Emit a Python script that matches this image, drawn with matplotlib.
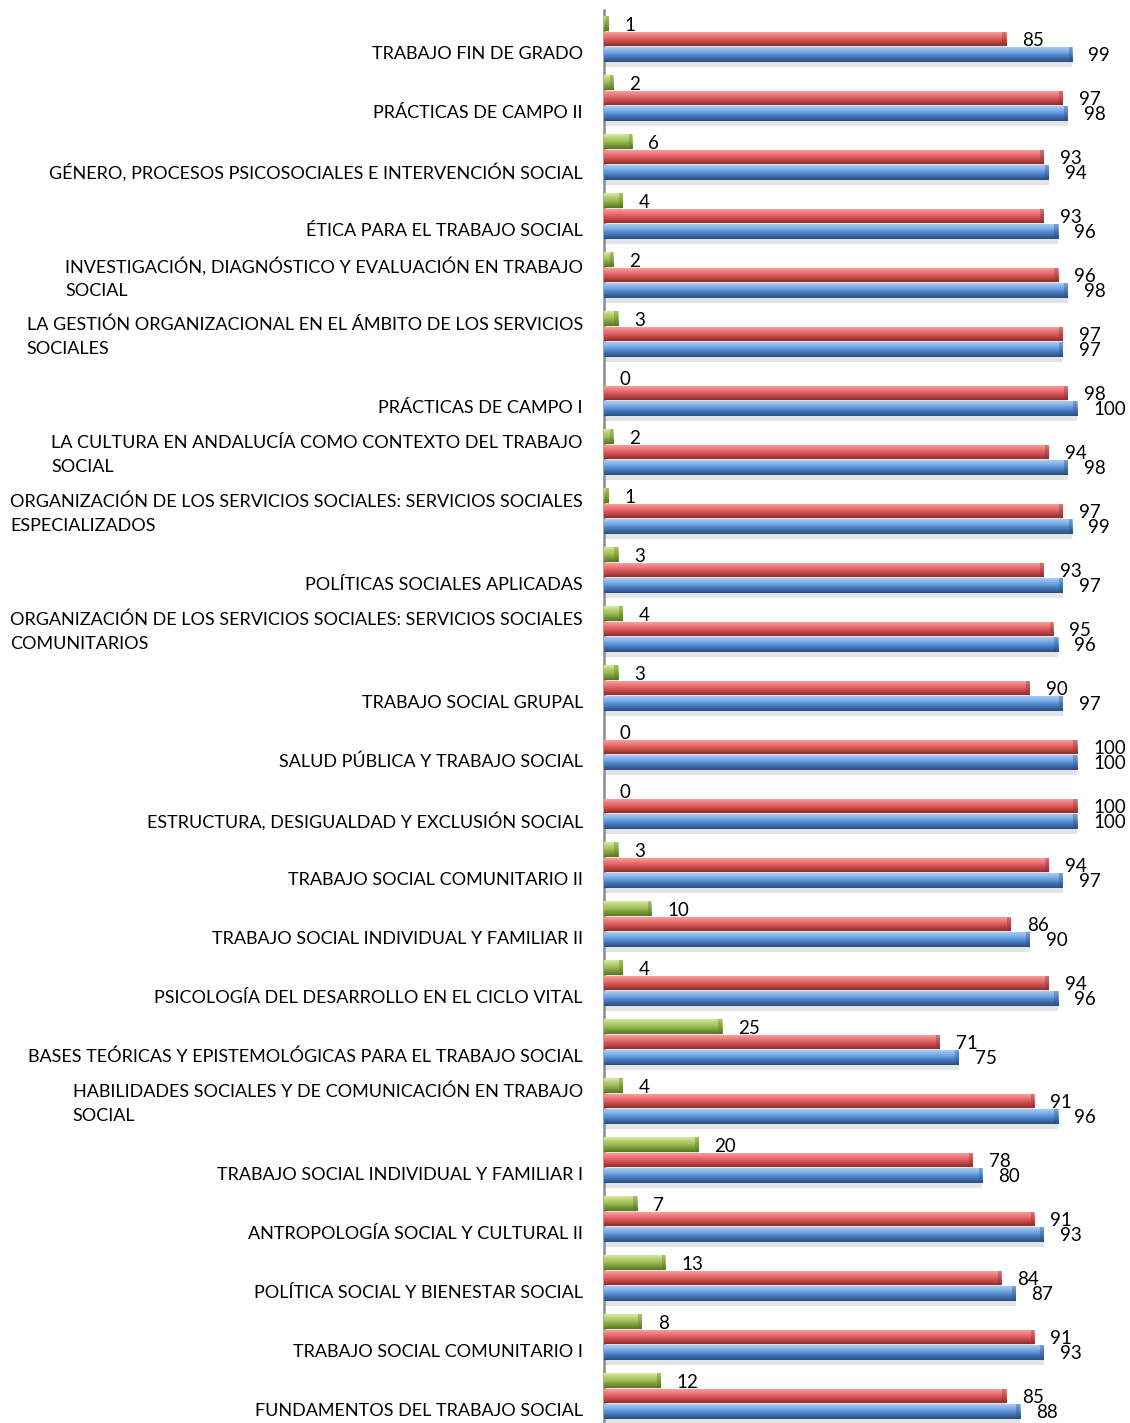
import numpy as np
import matplotlib
matplotlib.use('Agg')
import matplotlib.pyplot as plt
from matplotlib.colors import to_rgb

plt.rcParams['font.family'] = ['Lato', 'DejaVu Sans']

# categories listed top to bottom as in the chart
categorias = [
    'TRABAJO FIN DE GRADO',
    'PRÁCTICAS DE CAMPO II',
    'GÉNERO, PROCESOS PSICOSOCIALES E INTERVENCIÓN SOCIAL',
    'ÉTICA PARA EL TRABAJO SOCIAL',
    'INVESTIGACIÓN, DIAGNÓSTICO Y EVALUACIÓN EN TRABAJO\nSOCIAL',
    'LA GESTIÓN ORGANIZACIONAL EN EL ÁMBITO DE LOS SERVICIOS\nSOCIALES',
    'PRÁCTICAS DE CAMPO I',
    'LA CULTURA EN ANDALUCÍA COMO CONTEXTO DEL TRABAJO\nSOCIAL',
    'ORGANIZACIÓN DE LOS SERVICIOS SOCIALES: SERVICIOS SOCIALES\nESPECIALIZADOS',
    'POLÍTICAS SOCIALES APLICADAS',
    'ORGANIZACIÓN DE LOS SERVICIOS SOCIALES: SERVICIOS SOCIALES\nCOMUNITARIOS',
    'TRABAJO SOCIAL GRUPAL',
    'SALUD PÚBLICA Y TRABAJO SOCIAL',
    'ESTRUCTURA, DESIGUALDAD Y EXCLUSIÓN SOCIAL',
    'TRABAJO SOCIAL COMUNITARIO II',
    'TRABAJO SOCIAL INDIVIDUAL Y FAMILIAR II',
    'PSICOLOGÍA DEL DESARROLLO EN EL CICLO VITAL',
    'BASES TEÓRICAS Y EPISTEMOLÓGICAS PARA EL TRABAJO SOCIAL',
    'HABILIDADES SOCIALES Y DE COMUNICACIÓN EN TRABAJO\nSOCIAL',
    'TRABAJO SOCIAL INDIVIDUAL Y FAMILIAR I',
    'ANTROPOLOGÍA SOCIAL Y CULTURAL II',
    'POLÍTICA SOCIAL Y BIENESTAR SOCIAL',
    'TRABAJO SOCIAL COMUNITARIO I',
    'FUNDAMENTOS DEL TRABAJO SOCIAL',
]
verde = [1, 2, 6, 4, 2, 3, 0, 2, 1, 3, 4, 3, 0, 0, 3, 10, 4, 25, 4, 20, 7, 13, 8, 12]
rojo = [85, 97, 93, 93, 96, 97, 98, 94, 97, 93, 95, 90, 100, 100, 94, 86, 94, 71, 91, 78, 91, 84, 91, 85]
azul = [99, 98, 94, 96, 98, 97, 100, 98, 99, 97, 96, 97, 100, 100, 97, 90, 96, 75, 96, 80, 93, 87, 93, 88]

n = len(categorias)
pos = np.arange(n)[::-1]  # first category at top

fig = plt.figure(figsize=(11.3, 14.23), dpi=100)
ax = fig.add_axes([604 / 1130, -2.5 / 1423, 526 / 1130, 1 - 7 / 1423])

off = 0.26
h = 0.245
series = [
    (verde, off, ['#d8e8a8', '#b8d270', '#9bbb59', '#789836', '#5a7622']),
    (rojo, 0.0, ['#f9a8a8', '#f28282', '#df6060', '#bc4545', '#8f2e2e']),
    (azul, -off, ['#a8ccf2', '#80b2ec', '#5a8fd4', '#3d6cab', '#2a4f84']),
]


def grad_img(cols, nrows=40):
    rgb = np.array([to_rgb(c) for c in cols])
    t = np.linspace(0, 1, nrows)
    k = np.linspace(0, 1, len(cols))
    img = np.stack([np.interp(t, k, rgb[:, j]) for j in range(3)], axis=-1)
    return img[:, None, :]


for vals, dy, cols in series:
    # soft shadow
    ax.barh(pos + dy - 0.09, vals, height=h, color='#e4e4e4', zorder=1)
    bars = ax.barh(pos + dy, vals, height=h, color=cols[2], zorder=2)
    img = grad_img(cols)
    for b in bars:
        w = b.get_width()
        if w <= 0:
            continue
        y0 = b.get_y()
        y1 = y0 + b.get_height()
        im = ax.imshow(img, extent=(0, w, y0, y1), origin='upper',
                       aspect='auto', zorder=3, interpolation='bilinear')
        im.set_clip_path(b)
        # darker rounded end cap
        ax.barh(y0 + b.get_height() / 2, min(0.8, w), left=w - min(0.8, w),
                height=b.get_height(), color=cols[4], alpha=0.35, zorder=4)

for vals, dy, _ in series:
    for y, v in zip(pos + dy, vals):
        ax.annotate(str(v), xy=(v, y), xytext=(11.5, -1), textcoords='offset points',
                    ha='left', va='center', fontsize=13.5, color='black')

for y, lab in zip(pos, categorias):
    dy = -0.05 if '\n' in lab else -0.25
    ax.text(-0.04, y + dy, lab, transform=ax.get_yaxis_transform(),
            ha='right', va='center', multialignment='left',
            fontsize=13, linespacing=1.6, color='black')

ax.set_xlim(0, 111.2)
ax.set_ylim(-0.5, n - 0.5)
ax.set_xticks([])
ax.set_yticks([])
for s in ['top', 'right', 'bottom']:
    ax.spines[s].set_visible(False)
ax.spines['left'].set_color('#8c8c8c')
ax.spines['left'].set_linewidth(1.8)

fig.savefig('out.png', dpi=100)
